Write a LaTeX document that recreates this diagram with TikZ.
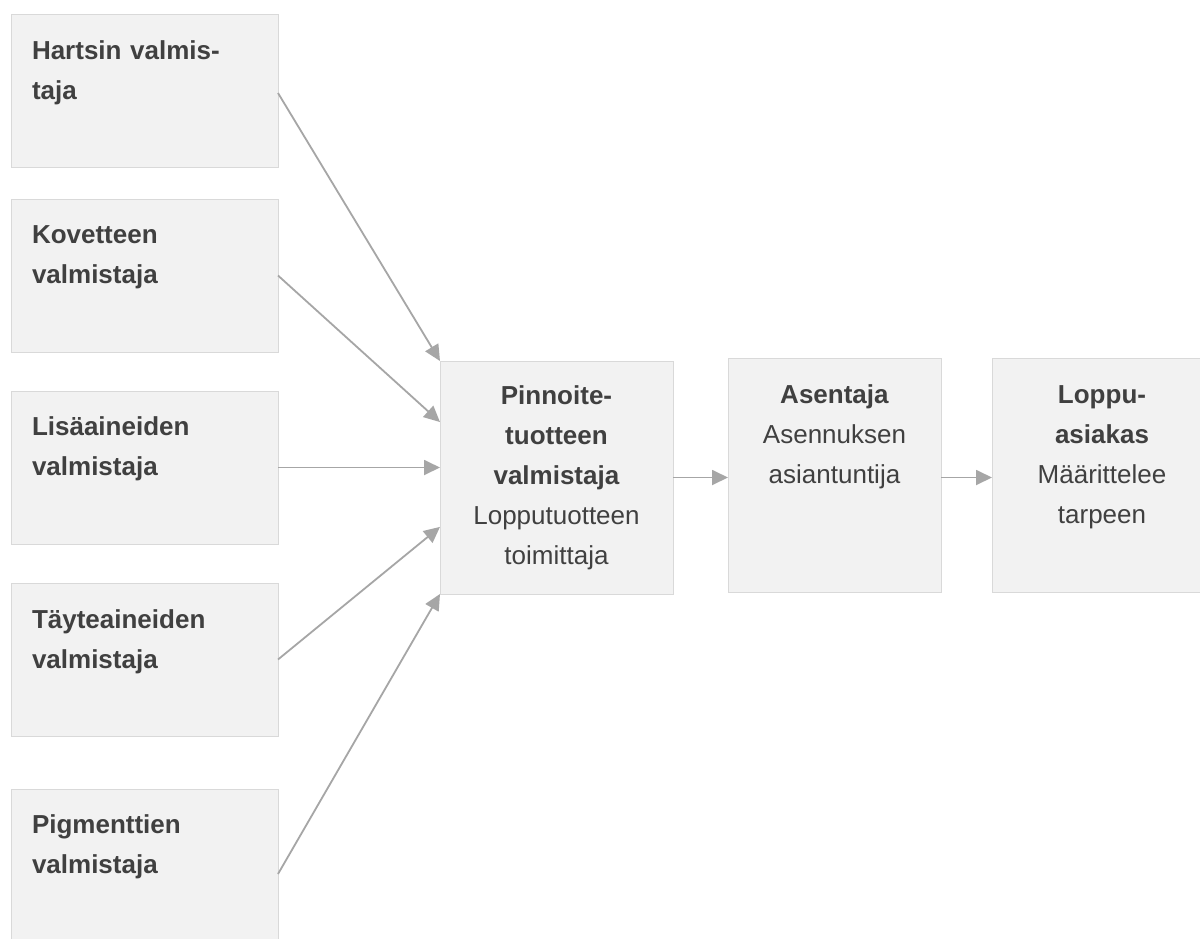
\documentclass[tikz,border=0pt]{standalone}
\usepackage{fontspec}
\setmainfont{Liberation Sans}
\usetikzlibrary{arrows.meta,calc}
\definecolor{boxfill}{HTML}{F2F2F2}
\definecolor{boxline}{HTML}{D9D9D9}
\definecolor{arrowgray}{HTML}{A6A6A6}
\definecolor{txt}{HTML}{404040}
\tikzset{
  box/.style={draw=boxline, fill=boxfill, line width=1pt, rectangle, anchor=north west, inner sep=0pt, outer sep=0pt},
  lbox/.style={box, minimum width=267pt, minimum height=153pt},
  lbl/.style={text=txt, inner sep=0pt, outer sep=0pt, font=\fontsize{26}{40}\selectfont},
  ltext/.style={lbl, text width=240pt, align=left, anchor=base west},
  ctext/.style={lbl, text width=210pt, align=center, anchor=base},
  conn/.style={draw=arrowgray, line width=1.8pt, -{Triangle[length=16pt,width=15pt]}}
}
\begin{document}
\begin{tikzpicture}[x=1pt,y=-1pt]
\useasboundingbox (0,0) rectangle (1200,938);
\clip (0,0) rectangle (1200,938);
\fill[white] (0,0) rectangle (1200,938);
% left boxes
\node[lbox] (b1) at (11,14) {};
\node[lbox] (b2) at (11,199) {};
\node[lbox] (b3) at (11,391) {};
\node[lbox] (b4) at (11,583) {};
\node[box, minimum width=267pt, minimum height=170pt] (b5) at (11,789) {};
% middle and right boxes
\node[box, minimum width=233pt, minimum height=233pt] (c) at (440,361) {};
\node[box, minimum width=213pt, minimum height=234pt] (a) at (728,358) {};
\node[box, minimum width=220pt, minimum height=234pt] (r) at (992,358) {};
% texts
\node[ltext] (t1) at (32,59) {\textbf{Hartsin valmis-}\\\textbf{taja}};
\node[ltext] (t2) at (32,243) {\textbf{Kovetteen}\\\textbf{valmistaja}};
\node[ltext] (t3) at (32,435) {\textbf{Lisäaineiden}\\\textbf{valmistaja}};
\node[ltext] (t4) at (32,628) {\textbf{Täyteaineiden}\\\textbf{valmistaja}};
\node[ltext] (t5) at (32,833) {\textbf{Pigmenttien}\\\textbf{valmistaja}};
\node[ctext] (tc) at (556.5,404) {\textbf{Pinnoite-}\\\textbf{tuotteen}\\\textbf{valmistaja}\\Lopputuotteen\\toimittaja};
\node[ctext] (ta) at (834.5,403) {\textbf{Asentaja}\\Asennuksen\\asiantuntija};
\node[ctext] (tr) at (1102,403) {\textbf{Loppu-}\\\textbf{asiakas}\\Määrittelee\\tarpeen};
% targets on the left edge of c
\coordinate (c2) at ($(c.north west)!0.262!(c.south west)$);
\coordinate (c4) at ($(c.north west)!0.712!(c.south west)$);
% connectors
\draw[conn] ([yshift=-2.5pt]b1.east) -- (c.north west);
\draw[conn] (b2.east) -- (c2);
\draw[conn] (b3.east) -- (b3.east -| c.west);
\draw[conn] (b4.east) -- (c4);
\draw[conn] (b5.east) -- (c.south west);
\draw[conn] (c.east) -- (c.east -| a.west);
\draw[conn] (a.east |- c.east) -- (r.west |- c.east);
\end{tikzpicture}
\end{document}
